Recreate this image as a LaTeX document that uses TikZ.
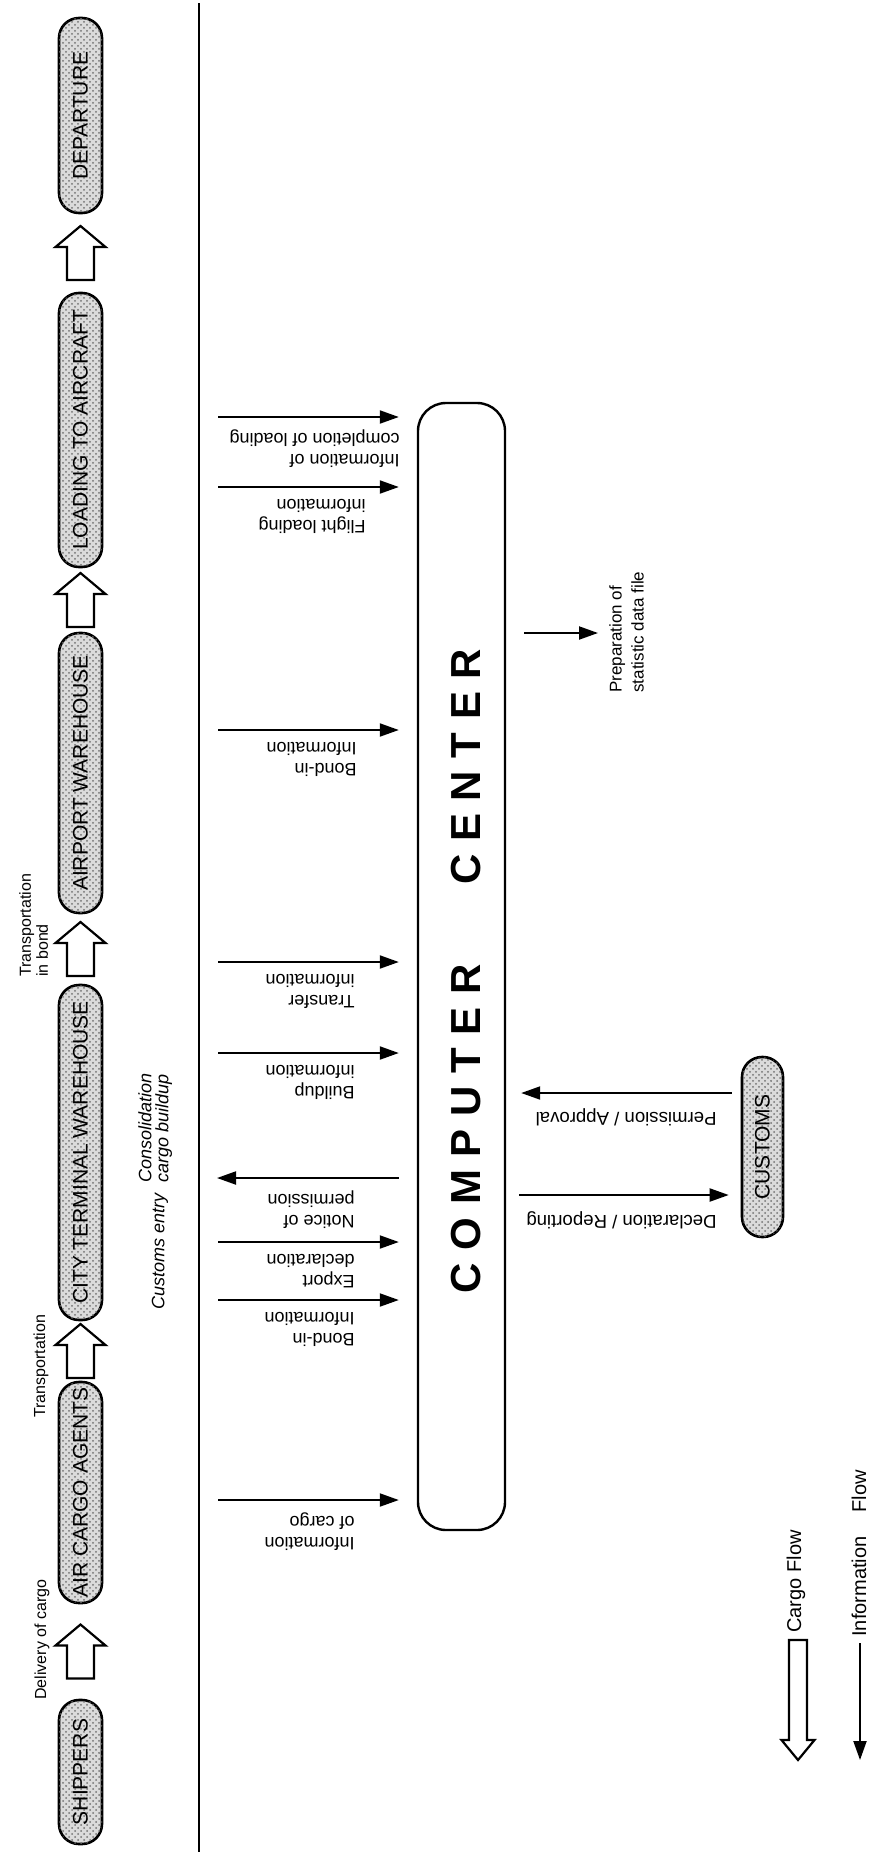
\documentclass[tikz,border=0pt]{standalone}
\usepackage{fontspec}
\setmainfont{Liberation Sans}
\usetikzlibrary{arrows.meta,calc,patterns}

% spacing between the letters of the big box title
\newcommand\ccgap{\hspace{6.3pt}}
% hollow block arrow pointing up, from a lower pill to an upper pill
\newcommand\cargoup[3]{%
  \coordinate (#3) at ($(#1.east)!0.5!(#2.west)+(0,-27)$);
  \draw[cargoline] (#3) -- ++(25,21) -- ++(-11.5,0) -- ++(0,33) -- ++(-27,0)
    -- ++(0,-33) -- ++(-11.5,0) -- cycle;}

\begin{document}
\begin{tikzpicture}[x=0.5pt,y=-0.5pt,
  pill/.style={draw, line width=1.3pt, fill=black!14,
    postaction={pattern=crosshatch dots, pattern color=black!55},
    rounded corners=10pt, rotate=90, inner sep=0pt, minimum height=21.5pt,
    font=\fontsize{10.5}{12}\selectfont},
  cargoline/.style={draw, line width=1.1pt, fill=white, line join=miter},
  info/.style={line width=1pt, -{Triangle[length=9.5pt,width=6.5pt]}},
  lbl/.style={rotate=180, anchor=south west, inner sep=0pt, align=left,
    font=\fontsize{9}{10.5}\selectfont},
  side/.style={rotate=90, inner sep=0pt, align=left,
    font=\fontsize{8}{8.5}\selectfont},
  note/.style={rotate=90, inner sep=0pt, align=left,
    font=\itshape\fontsize{9}{8.5}\selectfont},
]
\useasboundingbox (0,0) rectangle (870,1852);

% ---- cargo chain ----
\node[pill, minimum width=97.5pt]  (dep) at (80.5,115.5)  {DEPARTURE};
\node[pill, minimum width=137pt]   (load) at (80.5,430)   {LOADING TO AIRCRAFT};
\node[pill, minimum width=140pt]   (apw) at (80.5,773)    {AIRPORT WAREHOUSE};
\node[pill, minimum width=167.5pt] (ctw) at (80.5,1152.5) {CITY TERMINAL WAREHOUSE};
\node[pill, minimum width=110.5pt] (aca) at (80.5,1492.5) {AIR CARGO AGENTS};
\node[pill, minimum width=72pt]    (shp) at (80.5,1772)   {SHIPPERS};

\cargoup{shp}{aca}{c1}
\cargoup{aca}{ctw}{c2}
\cargoup{ctw}{apw}{c3}
\cargoup{apw}{load}{c4}
\cargoup{load}{dep}{c5}

\node[side, anchor=west] (tdel) at (42,1700) {Delivery of cargo};
\node[side, anchor=west] (ttr) at (41,1418) {Transportation};
\node[side, anchor=north west] (tbond) at (19,977) {Transportation\\in bond};

% ---- divider ----
\draw[line width=1.2pt] (199,3) -- (199,1852);

\node[note, anchor=north west] (cons) at (138,1183) {Consolidation\\cargo buildup};
\node[note, anchor=west] (cent) at (160,1310) {Customs entry};

% ---- computer center ----
\node[draw, line width=1.2pt, rounded corners=14pt, minimum width=43.5pt,
  minimum height=563.5pt, inner sep=0pt] (cc) at (461.5,966.5) {};
\node[rotate=90, font=\bfseries\fontsize{21}{24}\selectfont] (cctext) at (466,971)
  {C\ccgap O\ccgap M\ccgap P\ccgap U\ccgap T\ccgap E\ccgap R\hspace{40pt}C\ccgap E\ccgap N\ccgap T\ccgap E\ccgap R};

% ---- information flows into the computer center ----
\coordinate (i1) at (218,417);
\coordinate (i2) at (218,487);
\coordinate (i3) at (218,730);
\coordinate (i4) at (218,962);
\coordinate (i5) at (218,1053);
\coordinate (i6) at (217,1178);
\coordinate (i7) at (218,1242);
\coordinate (i8) at (218,1300);
\coordinate (i9) at (218,1500);
\foreach \k in {1,2,3,4,5,7,8,9}
  \draw[info, shorten >=9pt] (i\k) -- (i\k -| cc.west);
\draw[info, shorten <=9pt] (i6 -| cc.west) -- (i6);

\node[lbl] (l1) at (400,429)  {Information of\\completion of loading};
\node[lbl] (l2) at (366,499)  {Flight loading\\information};
\node[lbl] (l3) at (357,742)  {Bond-in\\Information};
\node[lbl] (l4) at (355,974)  {Transfer\\information};
\node[lbl] (l5) at (355,1065) {Buildup\\information};
\node[lbl] (l6) at (355,1190) {Notice of\\permission};
\node[lbl] (l7) at (355,1254) {Export\\declaration};
\node[lbl] (l8) at (355,1312) {Bond-in\\Information};
\node[lbl] (l9) at (355,1512) {Information\\of cargo};

% ---- statistics output ----
\coordinate (pf) at (598,633);
\draw[info, shorten <=9pt] (pf -| cc.east) -- (pf);
\node[rotate=90, anchor=north west, align=left, inner sep=0pt,
  font=\fontsize{8.5}{11}\selectfont] (prep) at (609,693)
  {Preparation of\\statistic data file};

% ---- customs ----
\node[pill, minimum width=90pt, minimum height=20.5pt] (cus) at (762.5,1147) {CUSTOMS};
\coordinate (pa) at (0,1093);
\coordinate (pd) at (0,1195);
\draw[info, shorten <=4.5pt, shorten >=7.5pt] (pa -| cus.north) -- (pa -| cc.east);
\draw[info, shorten <=6.5pt, shorten >=6pt] (pd -| cc.east) -- (pd -| cus.north);
\node[lbl, font=\fontsize{9.3}{11}\selectfont] (lpa) at (717,1108) {Permission / Approval};
\node[lbl, font=\fontsize{9.3}{11}\selectfont] (lpd) at (717,1211) {Declaration / Reporting};

% ---- legend ----
\node[rotate=90, anchor=west, inner sep=0pt, font=\fontsize{10}{12}\selectfont]
  (lgc) at (796,1633) {Cargo Flow};
\node[rotate=90, anchor=west, inner sep=0pt, font=\fontsize{10}{12}\selectfont]
  (lgi) at (859,1637) {Information\hspace{12pt}Flow};
\coordinate (lt) at ($(lgc.west)+(2,127)$);
\draw[cargoline] (lt) -- ++(-16.5,-20) -- ++(7.5,0) -- ++(0,-100) -- ++(18,0)
  -- ++(0,100) -- ++(7.5,0) -- cycle;
\draw[info] ($(lgi.west)+(1,6)$) -- ++(0,117);
\end{tikzpicture}
\end{document}
